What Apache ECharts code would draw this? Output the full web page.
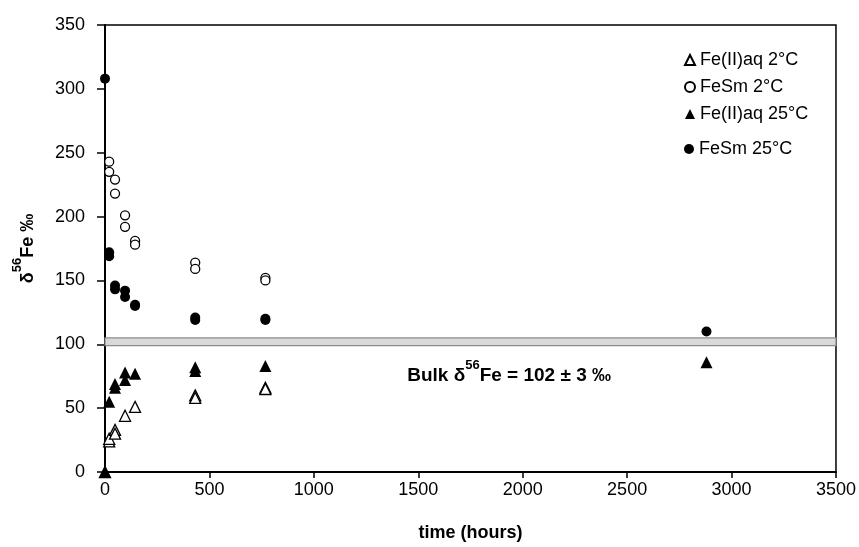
<!DOCTYPE html>
<html>
<head>
<meta charset="utf-8">
<script src="https://cdn.jsdelivr.net/npm/echarts@6/dist/echarts.min.js"></script>
<style>
  html, body { margin: 0; padding: 0; background: #fff; }
  #chart { width: 859px; height: 547px; }
</style>
</head>
<body>
<div id="chart"></div>
<script>
// δ56Fe over time, [time in hours, δ56Fe ‰]
const feAq2C = [[0, 0], [20, 24], [20, 26], [48, 33], [48, 30], [96, 44], [144, 51], [432, 60], [432, 58], [768, 66], [768, 65]];
const feSm2C = [[20, 243], [20, 235], [48, 229], [48, 218], [96, 201], [96, 192], [144, 181], [144, 178], [432, 164], [432, 159], [768, 152], [768, 150]];
const feAq25C = [[0, 0], [20, 55], [48, 66], [48, 69], [96, 72], [96, 78], [144, 77], [432, 82], [432, 79], [768, 83], [2880, 86]];
const feSm25C = [[0, 308], [20, 172], [20, 169], [48, 146], [48, 143], [96, 142], [96, 137], [144, 131], [144, 130], [432, 121], [432, 119], [768, 120], [768, 119], [2880, 110]];

// bulk value and its uncertainty band
const bulkValue = 102;
const bulkError = 3;

const seriesNames = ['Fe(II)aq 2°C', 'FeSm 2°C', 'Fe(II)aq 25°C', 'FeSm 25°C'];

const font = 'Arial, "Liberation Sans", sans-serif';

const chart = echarts.init(document.getElementById('chart'), null, { renderer: 'canvas' });

const openStyle = { color: '#fff', borderColor: '#000', borderWidth: 1.3, opacity: 1 };
const filledStyle = { color: '#000', opacity: 1 };

const legendBase = {
  orient: 'vertical',
  left: 679,
  itemWidth: 10,
  itemHeight: 10,
  itemGap: 9,
  textStyle: { fontFamily: font, fontSize: 18, color: '#000' }
};

chart.setOption({
  animation: false,
  backgroundColor: '#fff',
  grid: {
    left: 105, right: 21, top: 25, bottom: 69,
    show: true, borderColor: '#000', borderWidth: 1.5, backgroundColor: 'transparent'
  },
  legend: [
    Object.assign({}, legendBase, { data: seriesNames.slice(0, 3), top: 46 }),
    Object.assign({}, legendBase, { data: seriesNames.slice(3), top: 135 })
  ],
  xAxis: {
    type: 'value',
    min: 0, max: 3500, interval: 500,
    name: 'time (hours)',
    nameLocation: 'middle',
    nameGap: 52,
    nameTextStyle: { fontFamily: font, fontSize: 18, fontWeight: 'bold', color: '#000' },
    axisLine: { show: true, lineStyle: { color: '#000', width: 2 } },
    axisTick: { show: true, inside: false, length: 6, lineStyle: { color: '#000', width: 1.5 } },
    axisLabel: { fontFamily: font, fontSize: 18, color: '#000', margin: 9, formatter: v => String(v) },
    splitLine: { show: false }
  },
  yAxis: {
    type: 'value',
    min: 0, max: 350, interval: 50,
    name: '{d|δ}{sup|56}{d|Fe ‰}',
    nameLocation: 'middle',
    nameRotate: 90,
    nameGap: 68,
    nameTextStyle: {
      fontFamily: font, fontSize: 18, fontWeight: 'bold', color: '#000',
      rich: {
        d: { fontFamily: font, fontSize: 18, fontWeight: 'bold', color: '#000', lineHeight: 26, verticalAlign: 'bottom' },
        sup: { fontFamily: font, fontSize: 13, fontWeight: 'bold', color: '#000', lineHeight: 26, verticalAlign: 'top' }
      }
    },
    axisLine: { show: true, lineStyle: { color: '#000', width: 2 } },
    axisTick: { show: true, inside: false, length: 8, lineStyle: { color: '#000', width: 1.5 } },
    axisLabel: { fontFamily: font, fontSize: 18, color: '#000', margin: 20 },
    splitLine: { show: false }
  },
  series: [
    {
      name: 'bulk',
      type: 'line',
      data: [],
      silent: true,
      z: 1,
      markArea: {
        silent: true,
        itemStyle: { color: '#d9d9d9', borderColor: '#8c8c8c', borderWidth: 1.2 },
        data: [[{ yAxis: bulkValue - bulkError }, { yAxis: bulkValue + bulkError }]]
      },
      markPoint: {
        silent: true,
        symbol: 'circle',
        symbolSize: 0,
        data: [{ coord: [1935, 78] }],
        label: {
          show: true,
          position: 'inside',
          formatter: '{b|Bulk δ}{s|56}{b|Fe = ' + bulkValue + ' ± ' + bulkError + ' ‰}',
          rich: {
            b: { fontFamily: font, fontSize: 19, fontWeight: 'bold', color: '#000', lineHeight: 26, verticalAlign: 'bottom' },
            s: { fontFamily: font, fontSize: 13, fontWeight: 'bold', color: '#000', lineHeight: 26, verticalAlign: 'top' }
          }
        }
      }
    },
    {
      name: seriesNames[0], type: 'scatter', data: feAq2C,
      symbol: 'triangle', symbolSize: 11, itemStyle: openStyle, z: 3
    },
    {
      name: seriesNames[1], type: 'scatter', data: feSm2C,
      symbol: 'circle', symbolSize: 9, itemStyle: openStyle, z: 3
    },
    {
      name: seriesNames[2], type: 'scatter', data: feAq25C,
      symbol: 'triangle', symbolSize: 12, itemStyle: filledStyle, z: 4
    },
    {
      name: seriesNames[3], type: 'scatter', data: feSm25C,
      symbol: 'circle', symbolSize: 10, itemStyle: filledStyle, z: 4
    }
  ]
});
</script>
</body>
</html>
